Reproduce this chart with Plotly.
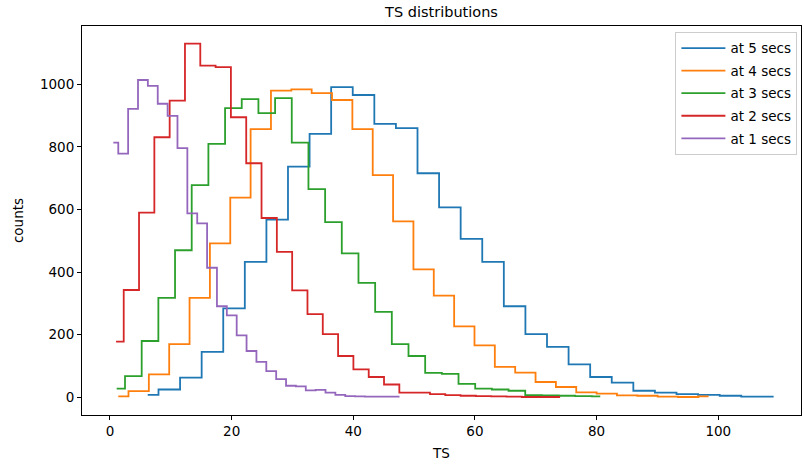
import numpy as np
import plotly.graph_objects as go

# ---- data (30-bin step histograms, counts per bin) ----
labels = ["at 5 secs", "at 4 secs", "at 3 secs", "at 2 secs", "at 1 secs"]
colors = ["#1f77b4", "#ff7f0e", "#2ca02c", "#d62728", "#9467bd"]

# first and last bin centre of each series (TS units)
first_center = [6.2, 1.37, 1.1, 1.0, 0.55]
last_center = [109.1, 98.4, 80.6, 74.0, 47.6]

counts_5s = [8, 25, 63, 145, 284, 433, 568, 737, 842, 991, 966, 874, 860, 716, 607,
             506, 433, 291, 202, 161, 105, 65, 47, 21, 15, 10, 8, 5, 2, 2]
counts_4s = [3, 20, 73, 170, 318, 492, 638, 857, 980, 984, 972, 950, 857, 710, 562,
             409, 325, 227, 166, 97, 79, 49, 33, 16, 12, 6, 5, 2, 1, 3]
counts_3s = [28, 68, 180, 318, 470, 678, 810, 924, 953, 908, 956, 814, 665, 560, 460,
             366, 273, 170, 132, 78, 75, 43, 28, 25, 21, 7, 6, 5, 4, 3]
counts_2s = [178, 343, 590, 831, 948, 1130, 1060, 1055, 895, 748, 573, 465, 342, 266, 202,
             132, 89, 65, 41, 15, 15, 10, 7, 5, 4, 3, 2, 1, 1, 1]
counts_1s = [814, 779, 922, 1014, 995, 938, 899, 796, 588, 556, 414, 291, 262, 198, 148,
             113, 84, 58, 37, 35, 22, 24, 15, 8, 4, 3, 2, 2, 2, 2]

series = [counts_5s, counts_4s, counts_3s, counts_2s, counts_1s]

x_ticks = [0, 20, 40, 60, 80, 100]
y_ticks = [0, 200, 400, 600, 800, 1000]

FONT = "DejaVu Sans"

fig = go.Figure()
for i, (lab, col, ys) in enumerate(zip(labels, colors, series)):
    xs = np.linspace(first_center[i], last_center[i], len(ys))
    fig.add_trace(go.Scatter(
        x=xs, y=ys, mode="lines", name=lab,
        line=dict(color=col, width=1.8, shape="hvh"),
        legendgroup=lab,
    ))

axis_common = dict(
    showline=True, linecolor="black", linewidth=1, mirror=True,
    ticks="outside", ticklen=4, tickwidth=1, tickcolor="black",
    showgrid=False, zeroline=False,
    tickfont=dict(family=FONT, size=13.5, color="black"),
)

fig.update_layout(
    width=804, height=468,
    margin=dict(l=82, r=3, t=26, b=53),
    paper_bgcolor="white", plot_bgcolor="white",
    font=dict(family=FONT, size=13.5, color="black"),
    title=dict(text="TS distributions", x=0.5, xref="paper", xanchor="center",
               y=1 - 12 / 468, yref="container", yanchor="middle",
               font=dict(family=FONT, size=14.5, color="black")),
    xaxis=dict(range=[-4.6, 113.6], tickvals=x_ticks, ticktext=[str(v) for v in x_ticks],
               title=dict(text="TS", standoff=10, font=dict(family=FONT, size=13.5)),
               **axis_common),
    yaxis=dict(range=[-56.5, 1186.5], tickvals=y_ticks, ticktext=[str(v) for v in y_ticks],
               title=dict(text="counts", standoff=13, font=dict(family=FONT, size=13.5)),
               **axis_common),
    legend=dict(x=0.995, xanchor="right", y=0.985, yanchor="top",
                bgcolor="rgba(255,255,255,0.8)", bordercolor="#cccccc", borderwidth=1,
                font=dict(family=FONT, size=13.5, color="black"),
                traceorder="grouped", tracegroupgap=2, itemwidth=44),
    showlegend=True,
)

fig.write_html("out.html")
